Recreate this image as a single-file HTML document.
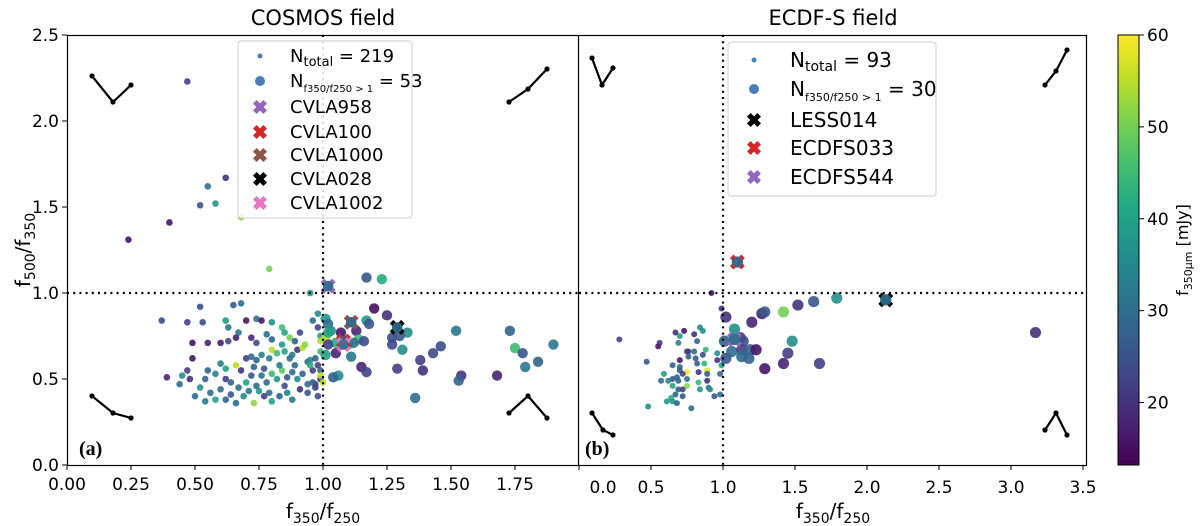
<!DOCTYPE html>
<html><head><meta charset="utf-8"><style>
html,body{margin:0;padding:0;background:#fff;}
svg{display:block;font-family:"DejaVu Sans","Liberation Sans",sans-serif;}
</style></head><body>
<svg id="chart" width="1200" height="526" viewBox="0 0 1200 526" xmlns="http://www.w3.org/2000/svg">
<defs>
<linearGradient id="vir" x1="0" y1="1" x2="0" y2="0">
<stop offset="0" stop-color="#440154"/><stop offset="0.1" stop-color="#482475"/><stop offset="0.2" stop-color="#414487"/><stop offset="0.3" stop-color="#355f8d"/><stop offset="0.4" stop-color="#2a788e"/><stop offset="0.5" stop-color="#21918c"/><stop offset="0.6" stop-color="#22a884"/><stop offset="0.7" stop-color="#44bf70"/><stop offset="0.8" stop-color="#7ad151"/><stop offset="0.9" stop-color="#bddf26"/><stop offset="1" stop-color="#fde725"/>
</linearGradient>
</defs>
<g id="root"></g>
<text x="323" y="25" text-anchor="middle" font-size="21">COSMOS field</text>
<text x="833" y="25" text-anchor="middle" font-size="21">ECDF-S field</text>
<text transform="translate(30,250) rotate(-90)" text-anchor="middle" font-size="20">f<tspan font-size="14" dy="5">500</tspan><tspan dy="-5">/f</tspan><tspan font-size="14" dy="5">350</tspan></text>
<text x="323" y="518" text-anchor="middle" font-size="20">f<tspan font-size="14" dy="5">350</tspan><tspan dy="-5">/f</tspan><tspan font-size="14" dy="5">250</tspan></text>
<text x="833" y="518" text-anchor="middle" font-size="20">f<tspan font-size="14" dy="5">350</tspan><tspan dy="-5">/f</tspan><tspan font-size="14" dy="5">250</tspan></text>
<text transform="translate(1188,250) rotate(-90)" text-anchor="middle" font-size="16">f<tspan font-size="11" dy="4">350μm</tspan><tspan dy="-4"> [mJy]</tspan></text>
<text x="79" y="455" font-family="Liberation Serif, serif" font-weight="bold" font-size="20">(a)</text>
<text x="585" y="455" font-family="Liberation Serif, serif" font-weight="bold" font-size="20">(b)</text>
<g font-size="18">
<rect x="238" y="41" width="174" height="177" rx="3" fill="#fff" fill-opacity="0.85" stroke="#ccc"/>
<circle cx="260" cy="56" r="2.5" fill="#4a7ebb"/><text x="290" y="62">N<tspan font-size="13" dy="4">total</tspan><tspan dy="-4"> = 219</tspan></text>
<circle cx="260" cy="81" r="5" fill="#4a7ebb"/><text x="290" y="87">N<tspan font-size="10" dy="5">f350/f250 &gt; 1</tspan><tspan dy="-5"> = 53</tspan></text>
<text x="290" y="113">CVLA958</text><text x="290" y="138">CVLA100</text><text x="290" y="161">CVLA1000</text><text x="290" y="185">CVLA028</text><text x="290" y="209">CVLA1002</text>
</g>
<g font-size="20">
<rect x="728" y="42" width="208" height="154" rx="3" fill="#fff" fill-opacity="0.85" stroke="#ccc"/>
<circle cx="754" cy="60" r="2.5" fill="#4a7ebb"/><text x="790" y="67">N<tspan font-size="14" dy="4">total</tspan><tspan dy="-4"> = 93</tspan></text>
<circle cx="754" cy="89" r="5" fill="#4a7ebb"/><text x="790" y="96">N<tspan font-size="11" dy="5">f350/f250 &gt; 1</tspan><tspan dy="-5"> = 30</tspan></text>
<text x="790" y="127">LESS014</text><text x="790" y="155">ECDFS033</text><text x="790" y="184">ECDFS544</text>
</g>
<g id="legendMarks"></g>
</svg>
<script>
// ---- data ----
const cosmosSmall = [
[0.37,0.84,25],[0.47,0.83,22],[0.53,0.83,24],[0.52,0.92,25],[0.65,0.93,26],[0.68,0.94,30],[0.62,0.84,38],[0.63,0.80,32],[0.70,0.84,16],[0.74,0.85,30],[0.76,0.84,16],[0.67,0.77,32],[0.80,0.83,36],[0.84,0.80,45],[0.85,0.77,40],[0.87,0.74,50],[0.49,0.71,16],[0.55,0.71,18],[0.60,0.71,17],[0.63,0.72,24],[0.66,0.74,17],[0.72,0.74,18],[0.74,0.71,24],[0.78,0.76,30],[0.80,0.73,28],[0.84,0.70,38],[0.49,0.62,16],[0.48,0.50,20],[0.39,0.51,18],[0.47,0.55,22],[0.55,0.55,28],[0.58,0.53,35],[0.62,0.56,40],[0.66,0.58,55],[0.70,0.62,22],[0.72,0.63,30],[0.74,0.61,28],[0.76,0.64,34],[0.79,0.62,33],[0.80,0.67,55],[0.82,0.65,45],[0.85,0.66,40],[0.87,0.62,30],[0.88,0.64,32],[0.90,0.67,20],[0.92,0.68,55],[0.93,0.70,52],[0.94,0.60,30],[0.95,0.61,35],[0.97,0.62,28],[0.98,0.58,22],[0.99,0.66,45],[0.62,0.50,22],[0.64,0.48,28],[0.67,0.45,30],[0.70,0.48,40],[0.72,0.52,26],[0.74,0.46,30],[0.76,0.52,32],[0.78,0.48,30],[0.80,0.53,45],[0.82,0.50,38],[0.84,0.55,48],[0.86,0.51,26],[0.88,0.54,30],[0.90,0.50,36],[0.92,0.53,28],[0.94,0.47,30],[0.96,0.55,22],[0.97,0.47,22],[0.52,0.45,36],[0.56,0.42,30],[0.58,0.38,40],[0.60,0.44,30],[0.64,0.41,26],[0.69,0.40,35],[0.71,0.43,32],[0.73,0.36,52],[0.79,0.42,30],[0.80,0.37,40],[0.83,0.40,28],[0.86,0.42,34],[0.88,0.38,32],[0.94,0.42,26],[0.98,0.40,24],[0.50,0.40,30],[0.54,0.37,32],[0.62,0.38,28],[0.66,0.36,30],[0.75,0.43,38],[0.77,0.40,22],[0.85,0.46,24],[0.91,0.44,20],[0.96,0.48,28],[0.99,0.50,20],[0.45,0.52,36],[0.44,0.47,30],[0.54,0.50,28],[0.60,0.59,34],[0.68,0.55,20],[0.73,0.57,28],[0.77,0.56,26],[0.83,0.58,34],[0.89,0.58,30],[0.95,0.58,42],[0.99,0.55,28],[0.99,0.75,40],[0.98,0.80,22],[0.96,0.84,30],[0.91,0.77,24],[0.89,0.72,28],[0.97,0.45,22],
[0.47,2.23,22],[0.62,1.67,20],[0.55,1.62,30],[0.52,1.51,25],[0.58,1.52,38],[0.68,1.44,52],[0.40,1.41,16],[0.24,1.31,16],[0.79,1.14,50],[0.95,1.00,38],
[0.99,0.72,55],[0.99,0.52,55],[1.00,0.48,55],[0.98,0.88,36]
];
const cosmosBig = [
[1.17,1.09,26],[1.23,1.08,42],[1.02,1.04,28],[1.20,0.91,15],[1.25,0.87,20],[1.11,0.83,25],[1.17,0.84,38],[1.18,0.82,26],[1.29,0.80,36],[1.33,0.77,36],[1.30,0.75,26],[1.27,0.74,24],[1.13,0.78,18],[1.07,0.77,16],[1.14,0.73,45],[1.16,0.72,24],[1.08,0.72,18],[1.08,0.70,30],[1.10,0.70,48],[1.12,0.71,30],[1.05,0.71,42],[1.27,0.70,24],[1.31,0.67,36],[1.05,0.65,18],[1.11,0.63,32],[1.38,0.61,22],[1.43,0.65,24],[1.46,0.69,24],[1.52,0.78,32],[1.15,0.57,18],[1.17,0.54,22],[1.29,0.56,22],[1.39,0.55,20],[1.06,0.52,36],[1.04,0.51,28],[1.54,0.52,20],[1.53,0.49,28],[1.68,0.52,18],[1.36,0.39,30],[1.73,0.78,28],[1.75,0.68,45],[1.78,0.65,26],[1.79,0.57,32],[1.84,0.60,28],[1.90,0.70,32],[1.01,0.85,38],[1.02,0.82,30],[1.03,0.78,36],[1.01,0.73,55],[1.02,0.70,22],[1.02,0.77,40],[1.01,0.64,40]
];
const cosmosNames = ["CVLA958","CVLA100","CVLA1000","CVLA028","CVLA1002"];
const cosmosX = [1.02,1.08,1.11,1.29,1.08];
const cosmosY = [1.04,0.72,0.83,0.80,0.70];
const cosmosXColor = ["#9467bd","#d62728","#8c564b","#000000","#e377c2"];

const ecdfsSmall = [
[0.28,0.73,22],[0.92,1.00,16],[0.99,0.91,20],[0.56,0.71,22],[0.55,0.69,16],[0.67,0.77,20],[0.73,0.78,16],[0.80,0.76,20],[0.84,0.80,36],[0.86,0.78,36],[0.70,0.75,40],[0.69,0.71,34],[0.82,0.72,28],[0.75,0.66,20],[0.76,0.66,22],[0.80,0.66,30],[0.88,0.67,44],[0.96,0.65,36],[0.86,0.64,24],[0.76,0.63,28],[0.81,0.62,26],[0.70,0.61,16],[0.96,0.61,20],[0.87,0.59,44],[0.82,0.59,28],[0.47,0.60,26],[0.65,0.58,28],[0.70,0.57,30],[0.70,0.55,26],[0.75,0.54,60],[0.89,0.55,58],[0.83,0.54,20],[0.89,0.53,28],[0.72,0.53,22],[0.59,0.53,40],[0.68,0.51,28],[0.65,0.50,26],[0.75,0.50,30],[0.57,0.49,30],[0.62,0.49,34],[0.69,0.49,28],[0.89,0.49,20],[0.83,0.48,45],[0.75,0.46,52],[0.65,0.46,40],[0.69,0.44,28],[0.72,0.44,22],[0.84,0.44,38],[0.90,0.45,32],[0.91,0.44,36],[0.67,0.41,28],[0.72,0.40,26],[0.94,0.40,26],[0.98,0.41,30],[0.64,0.39,42],[0.61,0.37,38],[0.65,0.37,38],[0.68,0.36,28],[0.48,0.34,36],[0.78,0.33,30],[0.98,0.53,30],[0.99,0.58,40]
];
const ecdfsBig = [
[1.10,1.18,28],[2.13,0.96,38],[1.08,0.73,30],[1.02,0.86,20],[1.20,0.83,18],[1.27,0.88,18],[1.29,0.89,26],[1.42,0.89,50],[1.52,0.93,20],[1.63,0.95,26],[1.79,0.97,36],[1.08,0.79,36],[1.12,0.74,22],[1.14,0.72,24],[1.01,0.72,28],[1.06,0.66,30],[1.13,0.67,22],[1.19,0.67,28],[1.23,0.67,16],[1.13,0.63,30],[1.18,0.62,28],[1.02,0.62,26],[1.29,0.56,16],[1.42,0.59,18],[1.45,0.65,22],[1.48,0.72,36],[1.67,0.59,22],[3.17,0.77,20]
];
const ecdfsNames = ["LESS014","ECDFS033","ECDFS544"];
const ecdfsX = [2.13,1.10,1.08];
const ecdfsY = [0.96,1.18,0.73];
const ecdfsXColor = ["#000000","#d62728","#9467bd"];

const leftXTicks = [0,0.25,0.5,0.75,1.0,1.25,1.5,1.75];
const leftXLabels = ["0.00","0.25","0.50","0.75","1.00","1.25","1.50","1.75"];
const rightXTicks = [0,0.5,1,1.5,2,2.5,3,3.5];
const rightXLabels = ["0.0","0.5","1.0","1.5","2.0","2.5","3.0","3.5"];
const yTicks = [0,0.5,1,1.5,2,2.5];
const yLabels = ["0.0","0.5","1.0","1.5","2.0","2.5"];
const cbTicks = [20,30,40,50,60];

(function(){
const pTop=35, pBot=465;
const yS = v => pBot - v*(pBot-pTop)/2.5;
const lx = v => 67 + v*256;
const rx = v => 579 + v*144;
const cMin=13.2, cMax=60;
const cbY = v => pBot - (v-cMin)/(cMax-cMin)*(pBot-pTop);
const stops=["#440154","#482475","#414487","#355f8d","#2a788e","#21918c","#22a884","#44bf70","#7ad151","#bddf26","#fde725"];
function hex(h){return [1,3,5].map(i=>parseInt(h.substr(i,2),16));}
function vir(v){let t=Math.max(0,Math.min(1,(v-cMin)/(cMax-cMin)))*10;let i=Math.min(9,Math.floor(t));let f=t-i;let a=hex(stops[i]),b=hex(stops[i+1]);return "rgb("+a.map((x,k)=>Math.round(x+(b[k]-x)*f)).join(",")+")";}

const NS="http://www.w3.org/2000/svg";
const rootG=document.getElementById('root');
function el(tag,attrs,parent){const e=document.createElementNS(NS,tag);for(const k in attrs)e.setAttribute(k,attrs[k]);(parent||rootG).appendChild(e);return e;}
function txt(s,attrs,parent){const e=el('text',attrs,parent);e.textContent=s;return e;}
function xPath(cx,cy,s){const w=3.6;return `M${cx-s} ${cy-s+w}L${cx-s+w} ${cy-s}L${cx} ${cy-w}L${cx+s-w} ${cy-s}L${cx+s} ${cy-s+w}L${cx+w} ${cy}L${cx+s} ${cy+s-w}L${cx+s-w} ${cy+s}L${cx} ${cy+w}L${cx-s+w} ${cy+s}L${cx-s} ${cy+s-w}L${cx-w} ${cy}Z`;}

function panel(name,x0,x1,xs,small,big,xNames,xX,xY,xCol,rs,rb){
  const g=el('g',{});
  
  
  small.forEach(p=>{
    const c=el('circle',{cx:xs(p[0]),cy:yS(p[1]),r:rs,fill:vir(p[2]),'fill-opacity':0.9},g);
    
    
  });
  big.forEach(p=>{
    const c=el('circle',{cx:xs(p[0]),cy:yS(p[1]),r:rb,fill:vir(p[2]),'fill-opacity':0.9},g);
    
    
  });
  xNames.forEach((n,i)=>{
    const m=el('path',{d:xPath(xs(xX[i]),yS(xY[i]),7.5),fill:xCol[i]},g);
    
    
    const c=el('circle',{cx:xs(xX[i]),cy:yS(xY[i]),r:rb,fill:vir(30),'fill-opacity':0.9},g);
    
    
  });
  const h=el('line',{x1:x0,x2:x1,y1:yS(1),y2:yS(1),stroke:'#000','stroke-width':2.2,'stroke-dasharray':'2 4.2'},g);
  
  
  const v=el('line',{x1:xs(1),x2:xs(1),y1:pTop,y2:pBot,stroke:'#000','stroke-width':2.2,'stroke-dasharray':'2 4.2'},g);
  
  
}
panel('cosmos',67,579,lx,cosmosSmall,cosmosBig,cosmosNames,cosmosX,cosmosY,cosmosXColor,3.3,5.2);
panel('ecdfs',579,1087,rx,ecdfsSmall,ecdfsBig,ecdfsNames,ecdfsX,ecdfsY,ecdfsXColor,3.0,5.6);

const icons=[
[[92,76],[113,102],[131,85]],[[509,102],[528,89],[547,69]],[[92,396],[113,413],[131,418]],[[509,413],[528,396],[547,418]],
[[592,58],[602,85],[613,68]],[[1045,85],[1056,71],[1067,50]],[[592,413],[603,430],[613,435]],[[1045,430],[1056,413],[1067,435]]
];
icons.forEach(pl=>{
  const p=el('polyline',{points:pl.map(q=>q.join(',')).join(' '),fill:'none',stroke:'#000','stroke-width':2.2});
  
  
  pl.forEach(q=>el('circle',{cx:q[0],cy:q[1],r:2.6,fill:'#000'}));
});

el('rect',{x:67.5,y:35.5,width:1019,height:430,fill:'none',stroke:'#000','stroke-width':1.2});
el('line',{x1:578.5,x2:578.5,y1:35,y2:465,stroke:'#000','stroke-width':1.2});

yTicks.forEach((t,i)=>{
  el('line',{x1:62,x2:67,y1:yS(t),y2:yS(t),stroke:'#000'});
  const l=txt(yLabels[i],{x:59,y:yS(t)+6,'text-anchor':'end','font-size':17});
  
  
});
leftXTicks.forEach((t,i)=>{
  el('line',{x1:lx(t),x2:lx(t),y1:465,y2:470,stroke:'#000'});
  const l=txt(leftXLabels[i],{x:lx(t),y:490,'text-anchor':'middle','font-size':17});
  
  
});
rightXTicks.forEach((t,i)=>{
  el('line',{x1:rx(t),x2:rx(t),y1:465,y2:470,stroke:'#000'});
  const l=txt(rightXLabels[i],{x:i===0?603:rx(t),y:493,'text-anchor':'middle','font-size':17});
  
  
});

el('rect',{x:1118,y:pTop,width:21,height:pBot-pTop,fill:'url(#vir)',stroke:'#000','stroke-width':1});
cbTicks.forEach(t=>{
  el('line',{x1:1139,x2:1144,y1:cbY(t),y2:cbY(t),stroke:'#000'});
  const l=txt(String(t),{x:1147,y:cbY(t)+6,'font-size':17});
  
  
});

const lm=document.getElementById('legendMarks');
[["#9467bd",107],["#d62728",132],["#8c564b",155],["#000",179],["#e377c2",203]].forEach(a=>{
  const p=el('path',{d:xPath(260,a[1],7),fill:a[0]},lm);
  
  
});
[["#000",120],["#d62728",148],["#9467bd",177]].forEach(a=>{
  const p=el('path',{d:xPath(754,a[1],7),fill:a[0]},lm);
  
  
});
})();
</script>
</body></html>
